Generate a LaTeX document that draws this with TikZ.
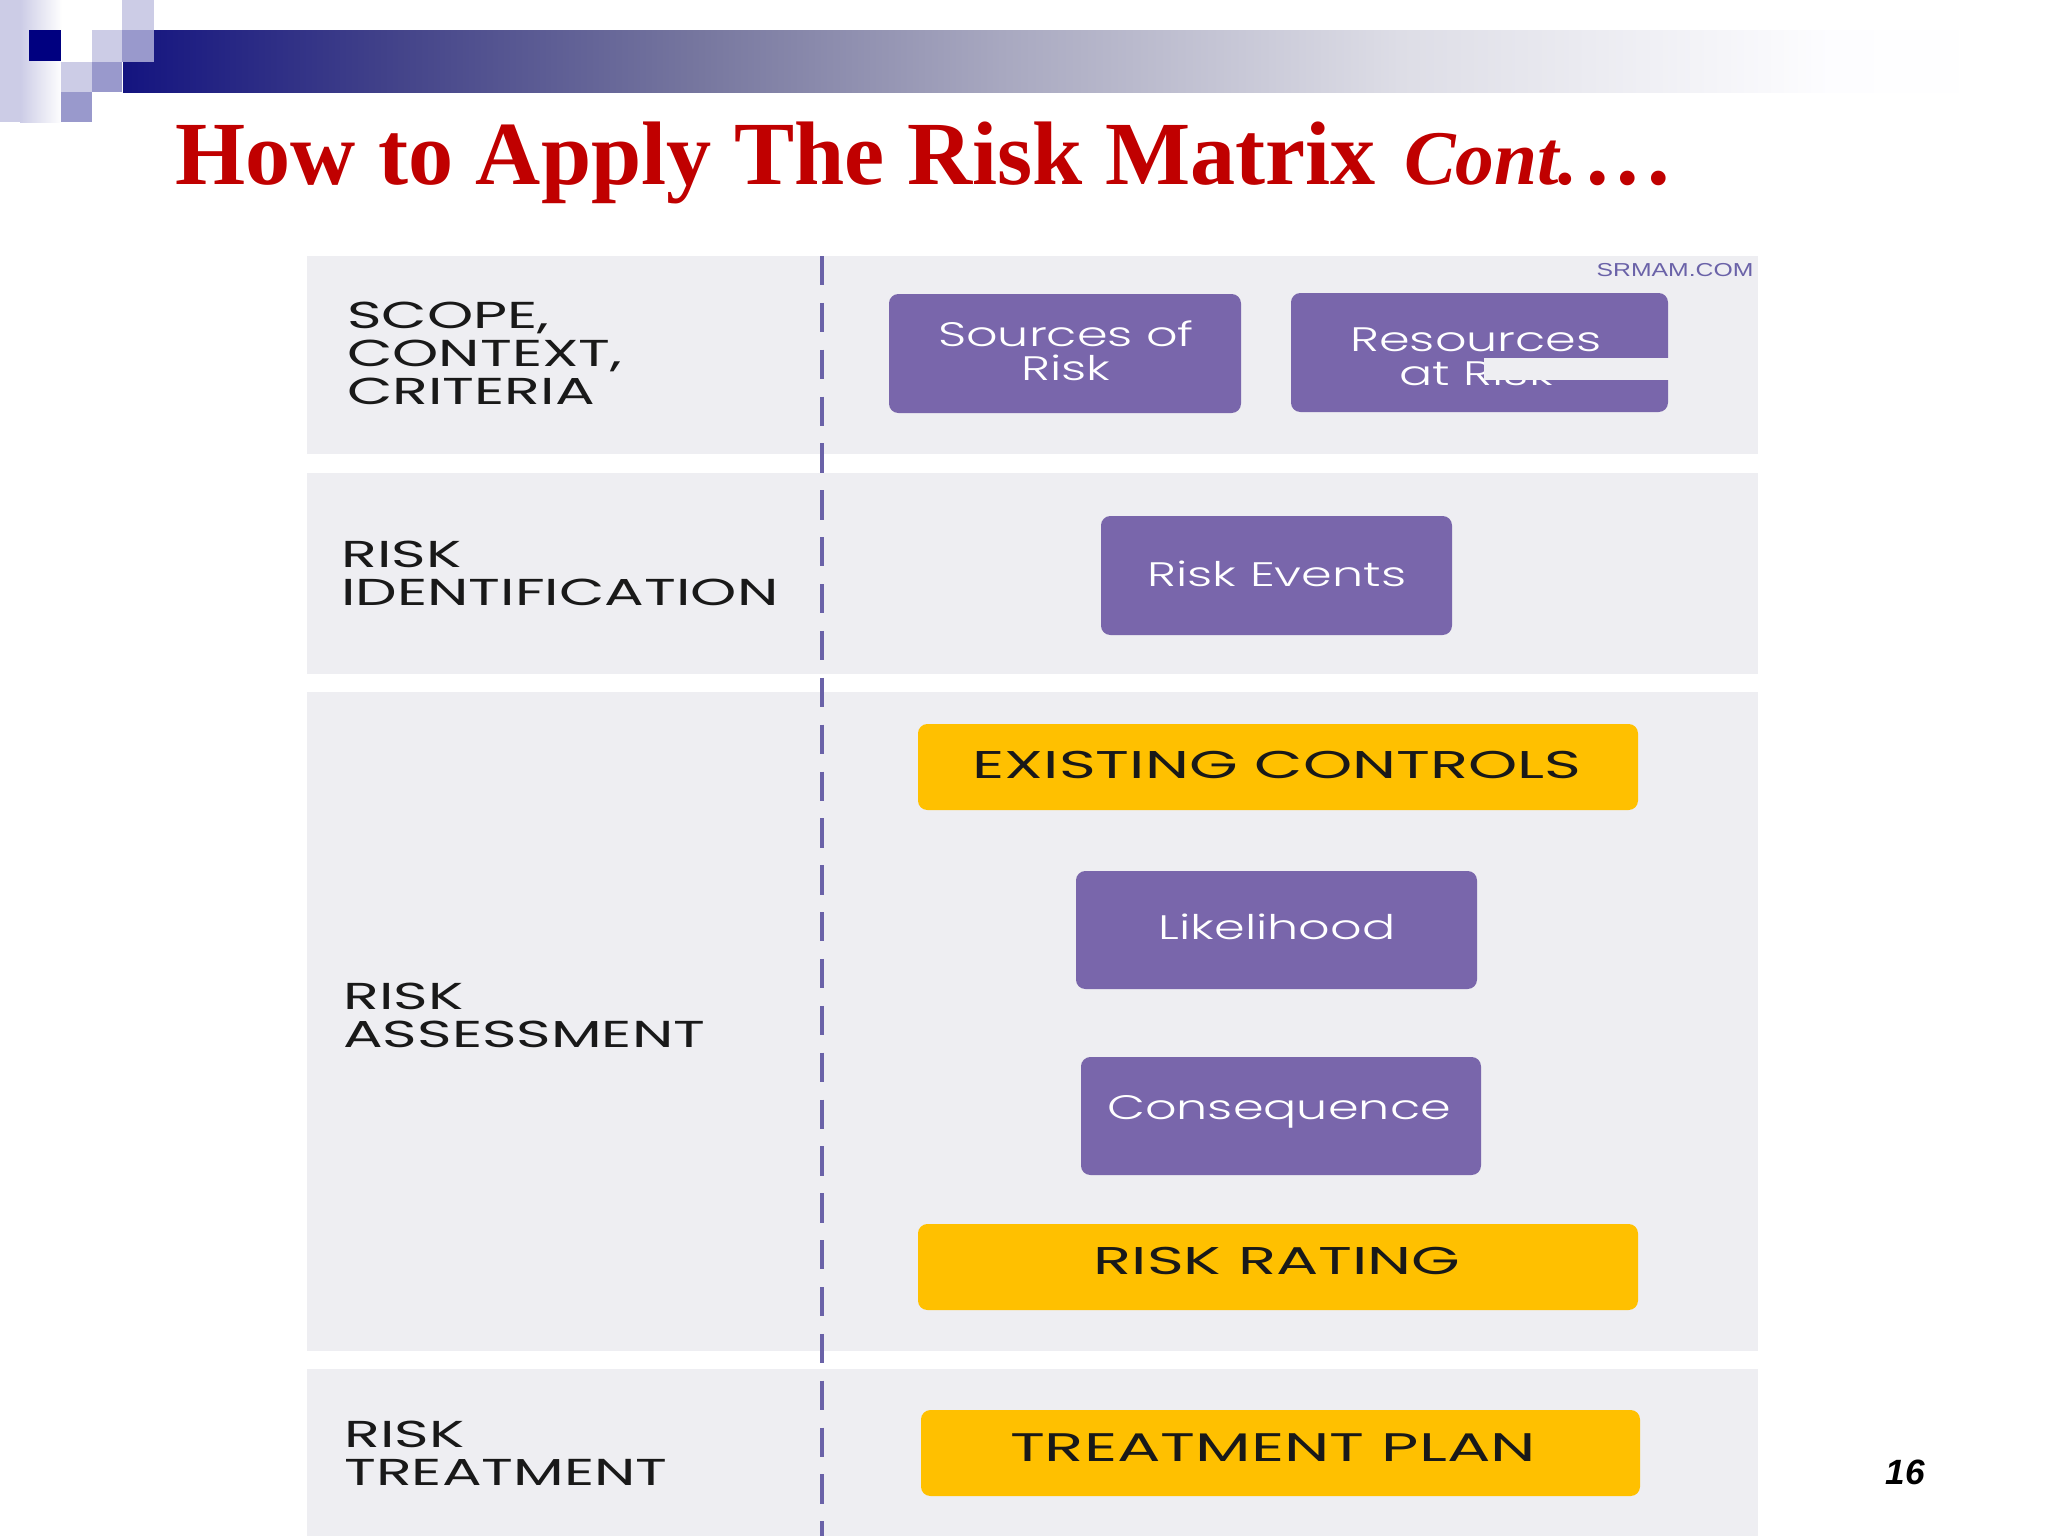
\documentclass[tikz,border=0pt]{standalone}
\usepackage{fontspec}
\setmainfont{Liberation Serif}
\newfontfamily\wideleft[FakeStretch=1.57]{Poppins}
\newfontfamily\widegold[FakeStretch=1.62]{Poppins}
\newfontfamily\widepurp[FakeStretch=1.45]{Poppins Light}
\newfontfamily\widemark[FakeStretch=1.32]{Liberation Sans}
\newfontfamily\plainsans{Liberation Sans}
\definecolor{band}{HTML}{EEEEF2}
\definecolor{purp}{HTML}{7966AB}
\definecolor{dashc}{HTML}{6A62A8}
\definecolor{gold}{HTML}{FFC000}
\definecolor{navy}{HTML}{000080}
\definecolor{sqa}{HTML}{CCCCE6}
\definecolor{sqb}{HTML}{9999CC}
\definecolor{ttl}{HTML}{C00000}
\definecolor{bar0}{HTML}{141480}
\definecolor{bar1}{HTML}{44448A}
\definecolor{bar2}{HTML}{77779F}
\definecolor{bar3}{HTML}{A8A8C0}
\definecolor{bar4}{HTML}{DDDDE6}
\definecolor{bar5}{HTML}{FDFDFF}
\pgfdeclarehorizontalshading{barshade}{100bp}{color(0bp)=(bar0); color(25bp)=(bar0); color(32.4bp)=(bar1); color(40.4bp)=(bar2); color(48.4bp)=(bar3); color(59bp)=(bar4); color(70.5bp)=(bar5); color(75bp)=(white); color(100bp)=(white)}
\tikzset{x=0.03cm,y=-0.03cm,
 bandbox/.style={fill=band,draw=none},
 pbox/.style={fill=purp,draw=none,rounded corners=8},
 gbox/.style={fill=gold,draw=none,rounded corners=8},
 steplabel/.style={anchor=west,align=left,inner sep=0pt,text=black!90,font=\wideleft\fontsize{32}{32.4}\selectfont},
 plabel/.style={align=center,inner sep=0pt,text=white,font=\widepurp\fontsize{29}{29}\selectfont},
 glabel/.style={inner sep=0pt,text=black!90,font=\widegold\fontsize{33}{33}\selectfont}}
\begin{document}
\begin{tikzpicture}
\useasboundingbox (0,0) rectangle (2048,1536);
\fill[white] (0,0) rectangle (2048,1536);
% header
\fill[sqa] (0,0) rectangle (20,122);
\shade[left color=sqa,right color=white] (20,0) rectangle (62,122);
\shade[shading=barshade] (123,30) rectangle (2000,92);
\fill[white] (123,30) rectangle (154,62);
\fill[navy] (29,30) rectangle (61,61);
\fill[white] (61,30) rectangle (92,62);
\fill[sqa] (92,30) rectangle (122,62);
\fill[sqb] (122,30) rectangle (154,62);
\fill[sqa] (122,0) rectangle (154,30);
\fill[sqa] (61,62) rectangle (92,92);
\fill[sqb] (92,62) rectangle (122,92);
\fill[sqb] (61,92) rectangle (92,122);
% title
\node[anchor=base west,inner sep=0pt,text=ttl,font=\fontsize{77}{77}\selectfont\bfseries] (title) at (175,184)
  {How to Apply The Risk Matrix \kern5pt{\itshape\fontsize{66}{66}\selectfont Cont.}\kern7pt.\kern7pt.\kern7pt.};
% bands
\fill[bandbox] (307,256) rectangle (1758,454);
\fill[bandbox] (307,473) rectangle (1758,674);
\fill[bandbox] (307,692) rectangle (1758,1351);
\fill[bandbox] (307,1369) rectangle (1758,1536);
% divider
\coordinate (dtop) at (821.5,256);
\coordinate (dbot) at (821.5,1536);
\draw[dashc,line width=3.4pt,dash pattern=on 25pt off 15pt] (dtop) -- (dbot);
% left labels
\node[steplabel] (l1) at (347,353) {SCOPE,\\CONTEXT,\\CRITERIA};
\node[steplabel] (l2) at (341,573) {RISK\\IDENTIFICATION};
\node[steplabel] (l3) at (343,1015) {RISK\\ASSESSMENT};
\node[steplabel] (l4) at (344,1453) {RISK\\TREATMENT};
% boxes
\fill[pbox] (889,294) rectangle (1241,413);
\node[plabel] (t1) at (1066,351) {Sources of\\Risk};
\fill[pbox] (1291,293) rectangle (1668,412);
\node[plabel] (t2) at (1476,357) {Resources\\at Risk};
\fill[band] (1484,358) rectangle (1670,380);
\fill[pbox] (1101,516) rectangle (1452,635);
\node[plabel] (t3) at (1277,574) {Risk Events};
\fill[gbox] (918,724) rectangle (1638,810);
\node[glabel] (t4) at (1277,765) {EXISTING CONTROLS};
\fill[pbox] (1076,871) rectangle (1477,989);
\node[plabel] (t5) at (1277,927) {Likelihood};
\fill[pbox] (1081,1057) rectangle (1481,1175);
\node[plabel] (t6) at (1279,1112) {Consequence};
\fill[gbox] (918,1224) rectangle (1638,1310);
\node[glabel] (t7) at (1277,1261) {RISK RATING};
\fill[gbox] (921,1410) rectangle (1640,1496);
\node[glabel,font=\widegold\fontsize{34}{34}\selectfont] (t8) at (1273,1448) {TREATMENT PLAN};
% watermark
\node[inner sep=0pt,text=dashc,font=\widemark\fontsize{16}{16}\selectfont] (wm) at (1675,270) {SRMAM.COM};
% page number
\node[inner sep=0pt,text=black,font=\plainsans\bfseries\itshape\fontsize{30}{30}\selectfont] (pn) at (1905,1472) {16};
\end{tikzpicture}
\end{document}
